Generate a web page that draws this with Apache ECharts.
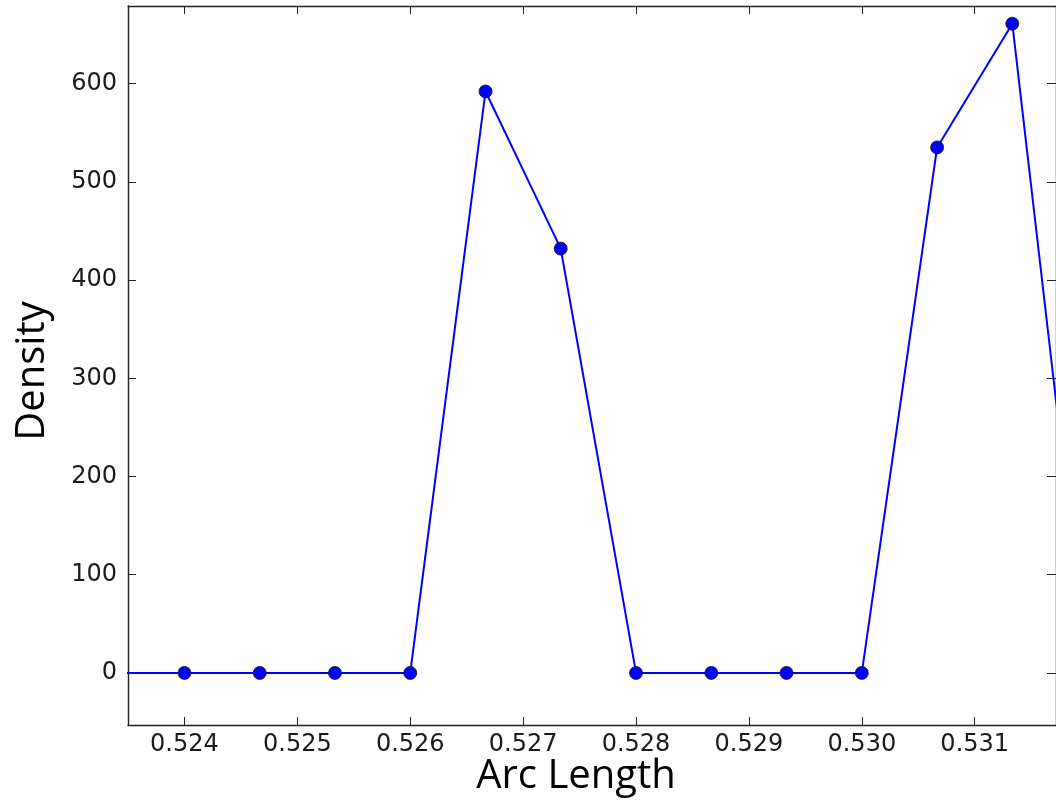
<!DOCTYPE html>
<html>
<head>
<meta charset="utf-8">
<script src="https://cdn.jsdelivr.net/npm/echarts@6/dist/echarts.min.js"></script>
<style>
html,body{margin:0;padding:0;background:#fff;}
#chart{width:1056px;height:801px;}
</style>
</head>
<body>
<div id="chart"></div>
<script>
// Data
var arcLength = [0.523333, 0.524, 0.524667, 0.525333, 0.526, 0.526667, 0.527333, 0.528, 0.528667, 0.529333, 0.530, 0.530667, 0.531333, 0.532];
var density   = [0, 0, 0, 0, 0, 592, 432, 0, 0, 0, 0, 535, 661, 0];
var xTicks = [0.524, 0.525, 0.526, 0.527, 0.528, 0.529, 0.530, 0.531];
var yTicks = [0, 100, 200, 300, 400, 500, 600];
var xTitle = 'Arc Length';
var yTitle = 'Density';

var points = arcLength.map(function (x, i) { return [x, density[i]]; });

var chart = echarts.init(document.getElementById('chart'), null, {renderer: 'canvas'});
var spine = {show: true, onZero: false, lineStyle: {color: '#222', width: 1.4}};
var tickStyle = {lineStyle: {color: '#222', width: 1}};
var labelFont = {fontFamily: 'DejaVu Sans', fontSize: 24, color: '#1a1a1a'};

chart.setOption({
  animation: false,
  backgroundColor: '#fff',
  grid: {left: 128, top: 6, right: -2, bottom: 76, containLabel: false},
  xAxis: [{
    type: 'value', position: 'bottom', min: 0.5235, max: 0.53172,
    axisLine: spine,
    axisTick: Object.assign({show: true, inside: true, length: 8, customValues: xTicks}, tickStyle),
    axisLabel: Object.assign({show: true, margin: 8, customValues: xTicks,
      formatter: function (v) { return v.toFixed(3); }}, labelFont),
    splitLine: {show: false}
  }, {
    type: 'value', position: 'top', min: 0.5235, max: 0.53172,
    axisLine: spine,
    axisTick: Object.assign({show: true, inside: true, length: 8, customValues: xTicks}, tickStyle),
    axisLabel: {show: false},
    splitLine: {show: false}
  }],
  yAxis: [{
    type: 'value', position: 'left', min: -53, max: 679,
    axisLine: spine,
    axisTick: Object.assign({show: true, inside: true, length: 8, customValues: yTicks}, tickStyle),
    axisLabel: Object.assign({show: true, margin: 11, customValues: yTicks}, labelFont),
    splitLine: {show: false}
  }, {
    type: 'value', position: 'right', min: -53, max: 679,
    axisLine: spine,
    axisTick: Object.assign({show: true, inside: true, length: 9, customValues: yTicks}, tickStyle),
    axisLabel: {show: false},
    splitLine: {show: false}
  }],
  series: [{
    type: 'line',
    xAxisIndex: 0, yAxisIndex: 0,
    data: points,
    clip: true,
    symbol: 'circle',
    symbolSize: 13,
    showAllSymbol: true,
    lineStyle: {color: '#0000ff', width: 2},
    itemStyle: {color: '#0000ff', borderColor: '#111', borderWidth: 0.8},
    emphasis: {disabled: true}
  }],
  graphic: [{
    type: 'text',
    x: 576, y: 777,
    style: {text: xTitle, x: 0, y: 0, textAlign: 'center', textVerticalAlign: 'middle',
      fontFamily: 'Open Sans', fontSize: 40, fill: '#000'}
  }, {
    type: 'text',
    rotation: Math.PI / 2,
    x: 33, y: 371,
    style: {text: yTitle, x: 0, y: 0, textAlign: 'center', textVerticalAlign: 'middle',
      fontFamily: 'Open Sans', fontSize: 40, fill: '#000'}
  }]
});
</script>
</body>
</html>
